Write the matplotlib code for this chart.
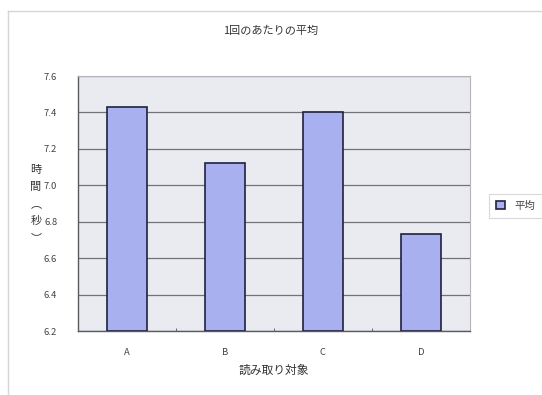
import matplotlib
matplotlib.use("Agg")
import matplotlib.pyplot as plt
from matplotlib.lines import Line2D

plt.rcParams['font.family'] = ['Noto Sans CJK JP', 'DejaVu Sans']

categories = ["A", "B", "C", "D"]
averages = [7.43, 7.12, 7.40, 6.73]
y_ticks = [6.2, 6.4, 6.6, 6.8, 7.0, 7.2, 7.4, 7.6]
title = "1回のあたりの平均"
x_label = "読み取り対象"
y_label_chars = ["時", "間", "︵", "秒", "︶"]
series_name = "平均"

W, H = 542, 395
fig = plt.figure(figsize=(W / 100, H / 100), dpi=100)
fig.patch.set_facecolor("white")

# outer chart border (top and left edges)
frame_col = "#d6d6d6"
fig.add_artist(Line2D([8 / W, 1.0], [1 - 10.5 / H] * 2, color=frame_col, lw=1.0))
fig.add_artist(Line2D([8 / W] * 2, [0.0, 1 - 10.5 / H], color=frame_col, lw=1.0))

ax = fig.add_axes([78 / W, 1 - 331 / H, (470 - 78) / W, (331 - 76) / H])
ax.set_facecolor("#eaebf1")

x = list(range(len(categories)))
bars = ax.bar(x, [v - 6.2 for v in averages], bottom=6.2, width=0.41,
              color="#a9b0f0", edgecolor="#20223f", linewidth=1.2,
              zorder=3, label=series_name)

ax.set_xlim(-0.5, len(categories) - 0.5)
ax.set_ylim(6.2, 7.6)
ax.set_yticks(y_ticks)
ax.set_yticklabels([f"{t:.1f}" for t in y_ticks])
ax.yaxis.grid(True, color="#727278", lw=0.9, zorder=1)
ax.tick_params(axis="y", length=0, pad=15, labelsize=6.8, colors="#444444")

ax.set_xticks(x)
ax.set_xticklabels(categories)
ax.set_xticks([i + 0.5 for i in x[:-1]], minor=True)
ax.tick_params(axis="x", which="major", length=0, pad=12, labelsize=6.8,
               colors="#444444")
ax.tick_params(axis="x", which="minor", direction="in", length=2.5,
               color="#555555")

for side in ("left", "bottom"):
    ax.spines[side].set_color("#5a5a60")
    ax.spines[side].set_linewidth(1.0)
for side in ("top", "right"):
    ax.spines[side].set_color("#b5b5ba")
    ax.spines[side].set_linewidth(0.8)

fig.text(271 / W, 1 - 31 / H, title, ha="center", va="center",
         fontsize=8, color="#333333")
fig.text(274 / W, 1 - 370 / H, x_label, ha="center", va="center",
         fontsize=8.5, color="#333333")

y0 = 170
for i, ch in enumerate(y_label_chars):
    fig.text(36 / W, 1 - (y0 + i * 17) / H, ch, ha="center", va="center",
             fontsize=8, color="#333333")

leg = fig.legend(handles=[bars], labels=[series_name], loc="center left",
                 bbox_to_anchor=(489 / W, 1 - 206 / H), fontsize=7.5,
                 frameon=True, fancybox=False, edgecolor="#d0d0d0",
                 handlelength=0.8, handleheight=0.8, handletextpad=0.9,
                 borderpad=0.7, borderaxespad=0)
leg.get_frame().set_linewidth(0.8)
for t in leg.get_texts():
    t.set_color("#444444")

fig.savefig("out.png", dpi=100)
